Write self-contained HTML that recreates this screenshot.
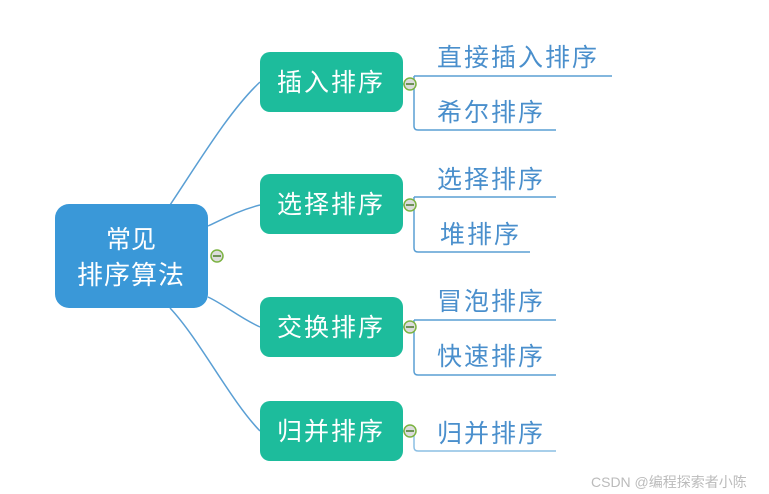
<!DOCTYPE html>
<html><head><meta charset="utf-8"><style>
html,body{margin:0;padding:0;background:#fff;width:769px;height:494px;overflow:hidden}
text{font-family:"Liberation Sans","Noto Sans CJK SC",sans-serif}
</style></head><body>
<svg width="769" height="494" xmlns="http://www.w3.org/2000/svg">
<g fill="none" stroke="#5a9fd4" stroke-width="1.5">
<path d="M170 205 C200 160 230 110 260 82"/>
<path d="M208 226 C225 218 240 210 260 205"/>
<path d="M208 297 C225 305 240 318 260 327"/>
<path d="M170 308 C200 340 230 400 260 431"/>
<path d="M403 84 H410"/><path d="M403 205 H410"/><path d="M403 327 H410"/><path d="M403 431 H410"/>
<path d="M414 76 H612"/><path d="M414 76 V126 Q414 130 418 130 H556"/>
<path d="M414 197 H556"/><path d="M414 197 V248 Q414 252 418 252 H530"/>
<path d="M414 320 H556"/><path d="M414 320 V371 Q414 375 418 375 H556"/>
<path d="M414 431 V447 Q414 451 418 451 H556" stroke="#8cbfe4"/>
</g>
<rect x="55" y="204" width="153" height="104" rx="14" fill="#3a98d8"/>
<text x="131" y="248" font-size="25" fill="#fff" text-anchor="middle">常见</text>
<text x="131" y="284" font-size="26" fill="#fff" text-anchor="middle" letter-spacing="1">排序算法</text>
<g fill="#1dbc9c">
<rect x="260" y="52" width="143" height="60" rx="10"/>
<rect x="260" y="174" width="143" height="60" rx="10"/>
<rect x="260" y="297" width="143" height="60" rx="10"/>
<rect x="260" y="401" width="143" height="60" rx="10"/>
</g>
<g font-size="25" fill="#fff" text-anchor="middle" letter-spacing="2">
<text x="331" y="91">插入排序</text>
<text x="331" y="213">选择排序</text>
<text x="331" y="336">交换排序</text>
<text x="331" y="440">归并排序</text>
</g>
<g font-size="25" fill="#4a8fcc" letter-spacing="2">
<text x="437" y="66">直接插入排序</text>
<text x="437" y="121">希尔排序</text>
<text x="437" y="188">选择排序</text>
<text x="440" y="243">堆排序</text>
<text x="437" y="310">冒泡排序</text>
<text x="437" y="365">快速排序</text>
<text x="437" y="442">归并排序</text>
</g>
<g fill="#dcdcdc" stroke="#7cb342" stroke-width="1.5">
<circle cx="410" cy="84" r="6"/><circle cx="410" cy="205" r="6"/><circle cx="410" cy="327" r="6"/><circle cx="410" cy="431" r="6"/><circle cx="217" cy="256" r="6"/>
</g>
<g stroke="#4a7a2a" stroke-width="1.5">
<path d="M406 84 H414"/><path d="M406 205 H414"/><path d="M406 327 H414"/><path d="M406 431 H414"/><path d="M213 256 H221"/>
</g>
<text x="591" y="487" font-size="14" fill="#bbb">CSDN @编程探索者小陈</text>
</svg>
</body></html>
